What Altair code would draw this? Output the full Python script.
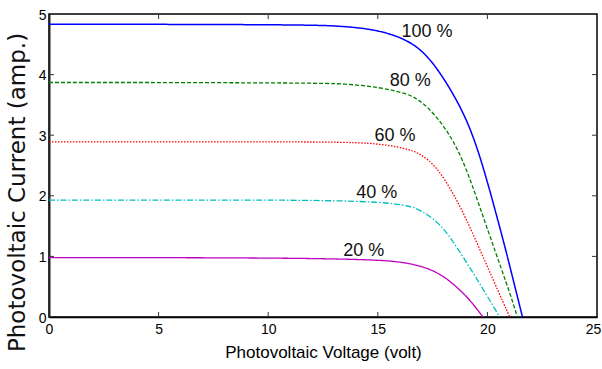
import altair as alt
import pandas as pd

# ---- data ----
series_names = ["100 %", "80 %", "60 %", "40 %", "20 %"]

v100 = [0, 6, 12, 13.3, 14.5, 15.56, 16.62, 17.46, 18.45, 19.21, 19.81, 20.35, 20.80, 21.18, 21.6]
i100 = [4.83, 4.83, 4.82, 4.80, 4.76, 4.68, 4.52, 4.24, 3.69, 3.14, 2.48, 1.77, 1.16, 0.61, 0.0]

v80 = [0, 6, 12, 13.5, 15.1, 16.32, 16.93, 17.69, 18.45, 19.06, 19.59, 20.12, 20.65, 21.03, 21.37]
i80 = [3.87, 3.87, 3.86, 3.85, 3.79, 3.69, 3.58, 3.31, 2.92, 2.43, 1.88, 1.33, 0.78, 0.39, 0.0]

v60 = [0, 6, 12, 14.8, 16.32, 16.93, 17.69, 18.45, 19.06, 19.66, 20.27, 20.73, 21.02]
i60 = [2.89, 2.89, 2.89, 2.88, 2.78, 2.70, 2.48, 2.04, 1.60, 1.11, 0.61, 0.23, 0.0]

v40 = [0, 6, 12, 15.25, 16.47, 16.93, 17.84, 18.6, 19.36, 19.97, 20.56]
i40 = [1.93, 1.93, 1.93, 1.90, 1.83, 1.77, 1.55, 1.16, 0.72, 0.36, 0.0]

v20 = [0, 6, 12, 15.1, 16.0, 16.93, 17.84, 18.6, 19.21, 19.8]
i20 = [0.98, 0.98, 0.97, 0.94, 0.91, 0.85, 0.72, 0.50, 0.28, 0.0]

label_texts = ["100 %", "80 %", "60 %", "40 %", "20 %"]
label_v = [17.24, 16.48, 15.78, 14.95, 14.36]
label_i = [4.62, 3.81, 2.91, 1.96, 1.01]

x_ticks = [0, 5, 10, 15, 20, 25]
y_ticks = [0, 1, 2, 3, 4, 5]
inner_x_ticks = [5, 10, 15, 20]
inner_y_ticks = [1, 2, 3, 4]

# ---- styles ----
colors = ["#0000ff", "#008000", "#ff0000", "#00bfbf", "#bf00bf"]
dashes = [[1, 0], [4, 2], [1.5, 1.5], [6, 2, 1.5, 2], [1, 0]]
widths = [1.5, 1.3, 1.3, 1.3, 1.3]

FONT = "Liberation Sans"
W, H = 548, 303

vs = [v100, v80, v60, v40, v20]
cs = [i100, i80, i60, i40, i20]
rows = []
for name, v, c in zip(series_names, vs, cs):
    for a, b in zip(v, c):
        rows.append({"series": name, "V": a, "I": b})
df = pd.DataFrame(rows)

xscale = alt.Scale(domain=[0, 25], nice=False, zero=False)
yscale = alt.Scale(domain=[0, 5], nice=False, zero=False)

xaxis = alt.Axis(
    values=x_ticks, ticks=False, grid=False, domainColor="black", domainWidth=1.5,
    labelFont=FONT, labelFontSize=14, labelColor="black", labelPadding=5,
    labelFlush=False, labelOverlap=False,
    labelOffset={"expr": "datum.value == 25 ? -4 : 0"},
    title="Photovoltaic Voltage (volt)", titleFont=FONT, titleFontSize=17,
    titleFontWeight="normal", titleColor="black", titleX=W / 2, titleY=40,
    titleBaseline="alphabetic",
)
yaxis = alt.Axis(
    values=y_ticks, ticks=False, grid=False, domainColor="#222222", domainWidth=2,
    labelFont=FONT, labelFontSize=14, labelColor="black", labelPadding=3,
    labelFlush=False, labelOverlap=False, labelOffset=1,
    title="Photovoltaic Current (amp.)", titleFont="DejaVu Sans", titleFontSize=23,
    titleFontWeight="normal", titleColor="#111111", titleX=-25, titleY=178,
    titleBaseline="alphabetic", titleAngle=270,
)

X = alt.X("V:Q", scale=xscale, axis=xaxis)
Y = alt.Y("I:Q", scale=yscale, axis=yaxis)

layers = []
for k, name in enumerate(series_names):
    layers.append(
        alt.Chart(df).transform_filter(alt.datum.series == name)
        .mark_line(color=colors[k], strokeDash=dashes[k], strokeWidth=widths[k],
                   interpolate="basis", clip=True)
        .encode(x=X, y=Y, order="V:Q")
    )

lab_df = pd.DataFrame({"t": label_texts, "V": label_v, "I": label_i})
labels = alt.Chart(lab_df).mark_text(
    font=FONT, fontSize=18, color="#111111", align="center", baseline="alphabetic"
).encode(x=X, y=Y, text="t:N")

xt = pd.DataFrame({"V": inner_x_ticks})
yt = pd.DataFrame({"I": inner_y_ticks})
tick_style = dict(color="#333333", strokeWidth=1)
bottom_ticks = alt.Chart(xt).mark_rule(**tick_style).encode(
    x=X, y=alt.value(H), y2=alt.value(H - 5))
top_ticks = alt.Chart(xt).mark_rule(**tick_style).encode(
    x=X, y=alt.value(0), y2=alt.value(5))
left_ticks = alt.Chart(yt).mark_rule(**tick_style).encode(
    y=Y, x=alt.value(0), x2=alt.value(5))
right_ticks = alt.Chart(yt).mark_rule(**tick_style).encode(
    y=Y, x=alt.value(W), x2=alt.value(W - 5))

chart = alt.layer(
    *layers, labels, bottom_ticks, top_ticks, left_ticks, right_ticks
).properties(
    width=W, height=H,
    autosize=alt.AutoSizeParams(type="none"),
    padding={"left": 49, "top": 14, "right": 5, "bottom": 52},
    background="white",
).configure_view(stroke="black", strokeWidth=1.5)

chart.save("out.html", embed_options={"renderer": "svg", "actions": False})
